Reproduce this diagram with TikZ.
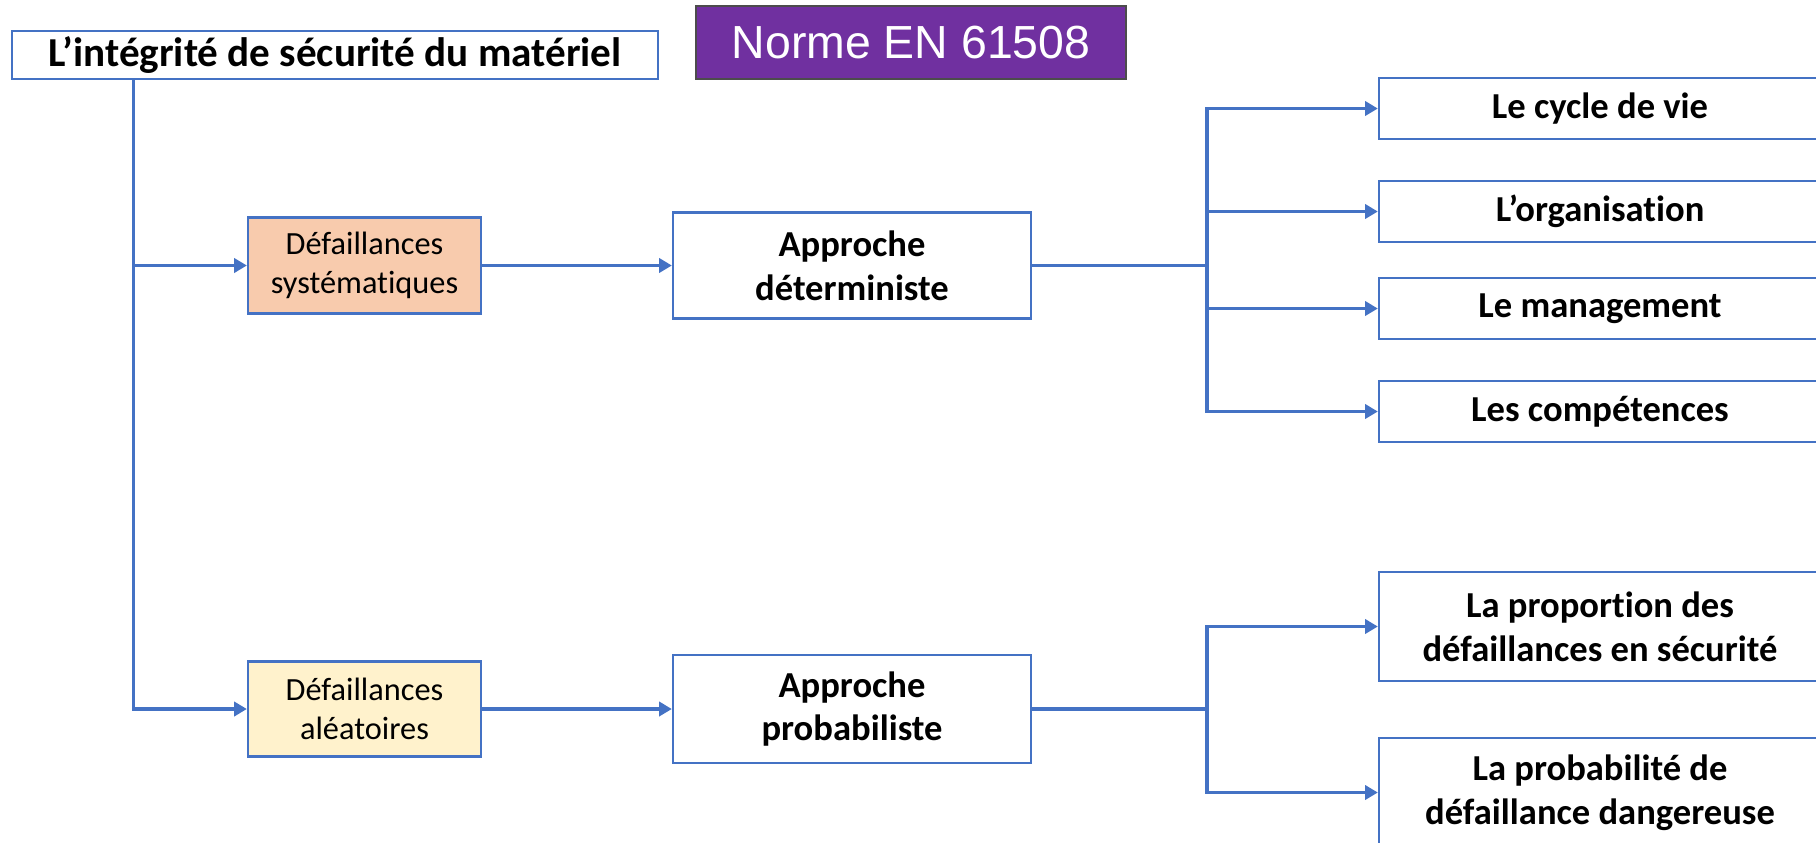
\documentclass[tikz,border=0pt]{standalone}
\usepackage{fontspec}
\setmainfont{Carlito}[Ligatures=NoCommon]
\newfontfamily\normefont{Liberation Sans}
\usepackage{tikz}
\usetikzlibrary{arrows.meta}
\usetikzlibrary{calc}
\definecolor{bleu}{HTML}{4472C4}
\definecolor{saumon}{HTML}{F8CBAD}
\definecolor{creme}{HTML}{FFF2CC}
\definecolor{violet}{HTML}{7030A0}

\begin{document}
\begin{tikzpicture}[x=0.01cm,y=-0.01cm,
            boite/.style={draw=bleu,line width=0.6pt,align=center,inner sep=0pt},
            gras/.style={font=\fontsize{10.4}{12.4}\selectfont\bfseries},
            fin/.style={font=\fontsize{9.2}{11.2}\selectfont},
            trait/.style={draw=bleu,line width=0.9pt},
            fleche/.style={trait,-{Triangle[length=3.6pt,width=4pt]}}]
            \useasboundingbox (0,0) rectangle (1816,842);
            \clip (0,0) rectangle (1816,842);
            \node[boite,minimum width=6.46cm,minimum height=0.48cm,font=\fontsize{11.7}{14}\selectfont\bfseries] (M) at (335,55) {L’intégrité de sécurité du matériel};
            \node[draw=black!70,fill=violet,text=white,minimum width=4.30cm,minimum height=0.73cm,font=\normefont\fontsize{13.2}{16}\selectfont] (N) at (911,42.5) {Norme EN 61508};
            \node[boite,fin,fill=saumon,minimum width=2.33cm,minimum height=0.96cm] (S) at (364.5,265.5) {Défaillances\\systématiques};
            \node[boite,fin,fill=creme,minimum width=2.33cm,minimum height=0.95cm] (A) at (364.5,709) {Défaillances\\aléatoires};
            \node[boite,gras,minimum width=3.58cm,minimum height=1.06cm] (D) at (852,265.5) {Approche\\déterministe};
            \node[boite,gras,minimum width=3.58cm,minimum height=1.08cm] (P) at (852,709) {Approche\\probabiliste};
            \foreach \nom/\y/\txt in {C/108.5/Le cycle de vie, O/211.5/L’organisation, G/308.5/Le management, K/411.5/Les compétences}
                \node[boite,gras,minimum width=4.42cm,minimum height=0.61cm] (\nom) at (1600,\y) {\txt};
            \node[boite,gras,minimum width=4.42cm,minimum height=1.09cm] (R) at (1600,626.5) {La proportion des\\défaillances en sécurité};
            \node[boite,gras,minimum width=4.42cm,minimum height=1.09cm] (B) at (1600,792.5) {La probabilité de\\défaillance dangereuse};
            \coordinate (T) at ($(M.south west)+(123,0)$);
            \coordinate (F1) at (1207,265.5);
            \coordinate (F2) at (1207,709);
            \draw[fleche] (T) |- (S.west);
            \draw[fleche] (T) |- (A.west);
            \draw[fleche] (S) -- (D);
            \draw[fleche] (A) -- (P);
            \draw[trait] (D.east) -- (F1);
            \draw[trait] (P.east) -- (F2);
            \foreach \nom in {C,O,G,K}
                \draw[fleche] (F1) |- (\nom.west);
            \draw[fleche] (F2) |- (R.west);
            \draw[fleche] (F2) |- (B.west);
        \end{tikzpicture}
\end{document}
